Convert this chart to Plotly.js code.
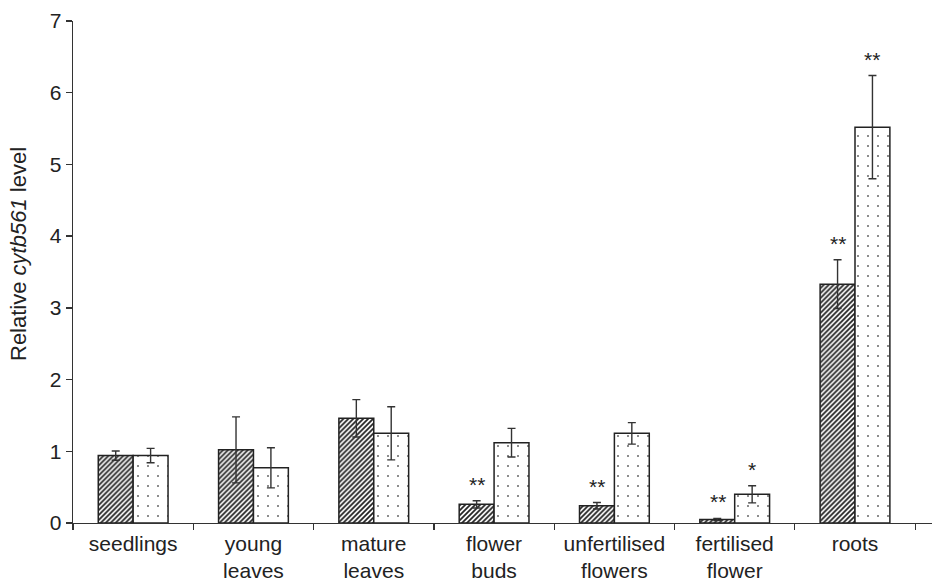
<!DOCTYPE html>
<html>
<head>
<meta charset="utf-8">
<script src="https://cdn.plot.ly/plotly-3.0.1.min.js"></script>
<style>html,body{margin:0;padding:0;background:#fff;}#chart{width:932px;height:584px;}</style>
</head>
<body>
<div id="chart"></div>
<script>
const categories = ["seedlings", "young<br>leaves", "mature<br>leaves", "flower<br>buds", "unfertilised<br>flowers", "fertilised<br>flower", "roots"];
const hatchedValues = [0.94, 1.02, 1.46, 0.26, 0.24, 0.05, 3.33];
const hatchedErrors = [0.065, 0.46, 0.26, 0.05, 0.045, 0.015, 0.34];
const dottedValues = [0.94, 0.77, 1.25, 1.12, 1.25, 0.40, 5.52];
const dottedErrors = [0.10, 0.28, 0.37, 0.20, 0.15, 0.12, 0.72];
const hatchedStars = ["", "", "", "**", "**", "**", "**"];
const dottedStars = ["", "", "", "", "", "*", "**"];
const yTitle = "Relative <i>cytb561</i> level";

const font = "Liberation Sans, Arial, sans-serif";
const errStyle = {type: "data", visible: true, color: "#333", thickness: 1.4, width: 4};

const hatched = {
  type: "bar", x: categories, y: hatchedValues, name: "hatched",
  error_y: Object.assign({array: hatchedErrors}, errStyle),
  marker: {color: "#fff", line: {color: "#222", width: 1.5},
    pattern: {shape: "/", fgcolor: "#222", bgcolor: "#fff", size: 3.5, solidity: 0.5}}
};
const dotted = {
  type: "bar", x: categories, y: dottedValues, name: "dotted",
  error_y: Object.assign({array: dottedErrors}, errStyle),
  marker: {color: "#fff", line: {color: "#222", width: 1.5},
    pattern: {shape: ".", fgcolor: "#555", bgcolor: "#fff", size: 10, solidity: 0.025}}
};

const annotations = [];
categories.forEach((c, i) => {
  if (hatchedStars[i]) annotations.push({x: c, y: hatchedValues[i] + hatchedErrors[i], text: hatchedStars[i],
    xshift: -17, yshift: 3, yanchor: "bottom", showarrow: false, font: {family: font, size: 21, color: "#222"}});
  if (dottedStars[i]) annotations.push({x: c, y: dottedValues[i] + dottedErrors[i], text: dottedStars[i],
    xshift: 17, yshift: 3, yanchor: "bottom", showarrow: false, font: {family: font, size: 21, color: "#222"}});
});
annotations.push({xref: "paper", yref: "paper", x: 0, y: 0.5, xshift: -55, yshift: 18, xanchor: "center", yanchor: "middle",
  textangle: -90, showarrow: false, text: yTitle, font: {family: font, size: 22, color: "#222"}});

const layout = {
  width: 932, height: 584,
  margin: {l: 73, r: 0, t: 21, b: 61},
  paper_bgcolor: "#fff", plot_bgcolor: "#fff",
  showlegend: false,
  barmode: "group", bargap: 0.42, bargroupgap: 0,
  font: {family: font, size: 21, color: "#222"},
  xaxis: {type: "category", range: [-0.5, 6.64], showline: true, linecolor: "#333", linewidth: 1.3,
    ticks: "outside", tickson: "boundaries", ticklen: 6, tickcolor: "#333", tickwidth: 1.3,
    ticklabelstandoff: 1,
    showgrid: false, zeroline: false, tickfont: {family: font, size: 21, color: "#222"}, fixedrange: true},
  yaxis: {range: [0, 7], dtick: 1, showline: true, linecolor: "#333", linewidth: 1.3,
    ticks: "outside", ticklen: 6, tickcolor: "#333", tickwidth: 1.3, showgrid: false, zeroline: false,
    tickfont: {family: font, size: 21, color: "#222"}},
  annotations: annotations
};

Plotly.newPlot("chart", [hatched, dotted], layout, {displayModeBar: false, staticPlot: true});
</script>
</body>
</html>
